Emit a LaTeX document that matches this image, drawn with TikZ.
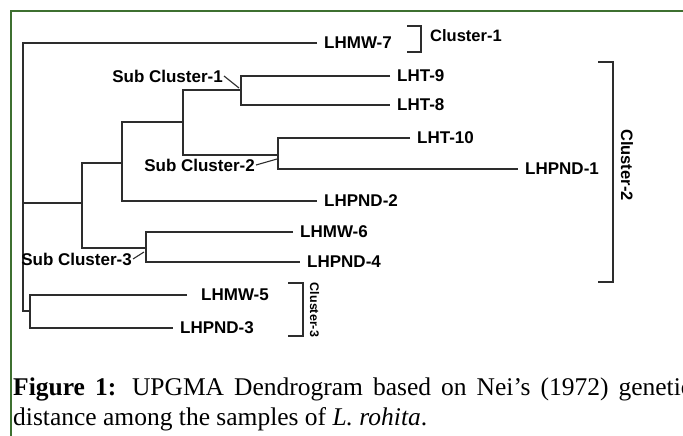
\documentclass[tikz,border=0pt]{standalone}
\usepackage{fontspec}
\setmainfont{Liberation Serif}
\newfontfamily\labfont{Liberation Sans}
\definecolor{framegreen}{RGB}{62,112,48}
\definecolor{treegray}{RGB}{45,45,45}
\begin{document}
\begin{tikzpicture}[x=1pt,y=-1pt,
  branch/.style={draw=treegray, line width=2.8pt, line join=miter},
  leaf/.style={font={\labfont\bfseries\fontsize{17pt}{17pt}\selectfont}, inner xsep=7pt, inner ysep=0pt, anchor=west},
  sublab/.style={font={\labfont\bfseries\fontsize{17pt}{17pt}\selectfont}, inner sep=1pt, anchor=east},
  leader/.style={draw=treegray, line width=1.1pt},
  brack/.style={draw=treegray, line width=1.7pt},
  clab/.style={font={\labfont\bfseries\fontsize{16.5pt}{16.5pt}\selectfont}, inner sep=0pt},
  captext/.style={anchor=base west, inner sep=0pt, font={\fontsize{25.5pt}{31pt}\selectfont}}
]
\useasboundingbox (0,0) rectangle (683,436);
\clip (0,0) rectangle (683,436);

% frame
\draw[framegreen, line width=2pt] (10.5,437) -- (10.5,11) -- (684,11);

% internal nodes
\coordinate (r) at (23,203);
\coordinate (a) at (82,203);
\coordinate (b) at (122,163);
\coordinate (c) at (183,122);
\coordinate (s1) at (241,90);
\coordinate (s2) at (278,155);
\coordinate (s3) at (146,248);
\coordinate (d) at (30,311);

% leaves
\node[leaf] (lhmw7) at (317,43) {LHMW-7};
\node[leaf] (lht9) at (390,76) {LHT-9};
\node[leaf] (lht8) at (390,105) {LHT-8};
\node[leaf] (lht10) at (410,138) {LHT-10};
\node[leaf] (lhpnd1) at (518,169) {LHPND-1};
\node[leaf] (lhpnd2) at (317,201) {LHPND-2};
\node[leaf] (lhmw6) at (293,232) {LHMW-6};
\node[leaf] (lhpnd4) at (300,262) {LHPND-4};
\node[leaf, inner xsep=14pt] (lhmw5) at (187,295) {LHMW-5};
\node[leaf] (lhpnd3) at (173,328) {LHPND-3};

% branches
\draw[branch] (lhmw7.west) -| (r) |- (d);
\draw[branch] (r) -- (a);
\draw[branch] (lhmw5.west) -| (d) |- (lhpnd3.west);
\draw[branch] (b) -| (a) |- (s3);
\draw[branch] (c) -| (b) |- (lhpnd2.west);
\draw[branch] (s1) -| (c) |- (s2);
\draw[branch] (lht9.west) -| (s1) |- (lht8.west);
\draw[branch] (lht10.west) -| (s2) |- (lhpnd1.west);
\draw[branch] (lhmw6.west) -| (s3) |- (lhpnd4.west);

% sub cluster labels
\node[sublab] (sl1) at (224,76) {Sub Cluster-1};
\node[sublab] (sl2) at (256,165) {Sub Cluster-2};
\node[sublab] (sl3) at (133,259) {Sub Cluster-3};
\draw[leader] (sl1.east) -- ([shift={(-2,-2)}]s1);
\draw[leader] (sl2.east) -- ([shift={(-1,4)}]s2);
\draw[leader] (sl3.east) -- ([shift={(-2,4)}]s3);

% cluster brackets
\draw[brack] (407,26) -- (421,26) -- (421,52) -- (407,52);
\node[clab, anchor=west] (cl1) at (430,36) {Cluster-1};
\draw[brack] (598,62) -- (613,62) -- (613,282) -- (598,282);
\node[clab, rotate=-90] (cl2) at (627,165) {Cluster-2};
\draw[brack] (288,283) -- (303,283) -- (303,336) -- (288,336);
\node[clab, rotate=-90, font={\labfont\bfseries\fontsize{12.5pt}{12.5pt}\selectfont}] (cl3) at (314.5,310) {Cluster-3};

% caption
\node[captext] (cap1) at (13,395) {\makebox[679pt][s]{\textbf{Figure 1:} UPGMA Dendrogram based on Nei’s (1972) genetic}};
\node[captext] (cap2) at (13,425) {distance among the samples of \textit{L. rohita}.};
\end{tikzpicture}
\end{document}
